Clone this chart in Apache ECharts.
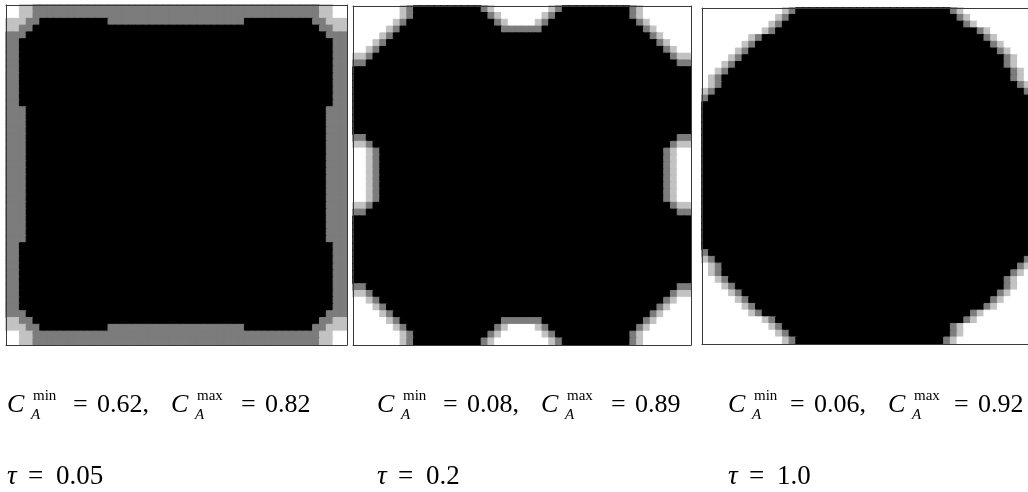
<!DOCTYPE html>
<html>
<head>
<meta charset="utf-8">
<title>C_A maps</title>
<script src="https://cdn.jsdelivr.net/npm/echarts@6/dist/echarts.min.js"></script>
<style>
  html, body { margin: 0; padding: 0; background: #fff; }
  #chart { width: 1028px; height: 492px; }
</style>
</head>
<body>
<div id="chart"></div>
<script>
// 50 x 50 cells per map, one string per row (top row first)
// B black, D dark grey, L light grey, W white ; "n*" = row repeated n times
var panel1Rows = [
  "2*W2L2D42L2W2",
  "L3D2B10D20B10D2L3",
  "L2D2B42D2L2",
  "D3B44D3",
  "10*D2B46D2",
  "20*D3B44D3",
  "10*D2B46D2",
  "D3B44D3",
  "L2D2B42D2L2",
  "L3D2B10D20B10D2L3",
  "2*W2L2D42L2W2"
];

var panel2Rows = [
  "W7L1D1B10D1L1W8L1D1B10D1L1W7",
  "W7L1D1B11D1L1W6L1D1B11D1L1W7",
  "W6L1D1B13D1L1W4L1D1B13D1L1W6",
  "W5L1D1B15D6B15D1L1W5",
  "W4L1D1B38D1L1W4",
  "W3L1D1B40D1L1W3",
  "W2L1D1B42D1L1W2",
  "L2D1B44D1L2",
  "D2B46D2",
  "10*B50",
  "D2B46D2",
  "L2D1B44D1L2",
  "8*W2L1D1B42D1L1W2",
  "L2D1B44D1L2",
  "D2B46D2",
  "10*B50",
  "D2B46D2",
  "L2D1B44D1L2",
  "W2L1D1B42D1L1W2",
  "W3L1D1B40D1L1W3",
  "W4L1D1B38D1L1W4",
  "W5L1D1B15D6B15D1L1W5",
  "W6L1D1B13D1L1W4L1D1B13D1L1W6",
  "W7L1D1B11D1L1W6L1D1B11D1L1W7",
  "W7L1D1B10D1L1W8L1D1B10D1L1W7"
];

var panel3Rows = [
  "W12L1D1B23D1L1W11",
  "W11L1D1B25D1L1W10",
  "W10L1D1B27D1L1W9",
  "W9L1D1B30D1L1W7",
  "W7L1D1B33D1L1W6",
  "W6L1D1B35D1L1W5",
  "W5L1D1B37D1L1W4",
  "W4L1D1B39D1L1W3",
  "W3L1D1B40D1L1W3",
  "W2L1D1B42D1L1W2",
  "W1L1D1B43D1L1W2",
  "W1L1D1B44D1L1W1",
  "L1D1B46D1L1",
  "D1B48D1",
  "22*B50",
  "D1B48D1",
  "L1D1B46D1L1",
  "W1L1D1B44D1L1W1",
  "W1L1D1B43D1L1W2",
  "W2L1D1B41D1L1W3",
  "W3L1D1B40D1L1W3",
  "W4L1D1B38D1L1W4",
  "W5L1D1B36D1L1W5",
  "W6L1D1B34D1L1W6",
  "W7L1D1B31D1L1W8",
  "W9L1D1B28D1L1W9",
  "W10L1D1B25D1L1W11",
  "W11L1D1B24D1L1W11",
  "W12L1D1B22D1L1W12"
];

var cMin = ["0.62", "0.08", "0.06"];
var cMax = ["0.82", "0.89", "0.92"];
var tauValues = ["0.05", "0.2", "1.0"];

var levelCodes = ["B", "D", "L", "W"];
var levelColors = ["#000000", "#7c7c7c", "#c2c2c2", "#ffffff"];

var N = 50;
var cellIndex = [];
for (var i = 0; i < N; i++) cellIndex.push(i);

// turn the row strings into heatmap items [col, row, level]
function decodeRows(rows) {
  var out = [];
  var r = 0;
  rows.forEach(function (line) {
    var rep = 1;
    var m = line.match(/^(\d+)\*(.*)$/);
    if (m) { rep = +m[1]; line = m[2]; }
    var cells = [];
    line.replace(/([BDLW])(\d+)/g, function (s, code, n) {
      for (var k = 0; k < +n; k++) cells.push(levelCodes.indexOf(code));
      return s;
    });
    if (cells.length !== N) console.warn("row width", cells.length, line);
    for (var k = 0; k < rep; k++) {
      cells.forEach(function (v, c) {
        // border in the cell's own colour hides the seams between cells
        out.push({ value: [c, r, v], itemStyle: { borderColor: levelColors[v], borderWidth: 1 } });
      });
      r++;
    }
  });
  return out;
}

var panels = [
  { rows: panel1Rows, left: 6, top: 5, width: 341, height: 340 },
  { rows: panel2Rows, left: 353, top: 6, width: 338, height: 339 },
  { rows: panel3Rows, left: 702, top: 8, width: 336, height: 336 }
];

var grids = [], xAxes = [], yAxes = [], series = [];

function frameAxis(grid, position, inverse) {
  return {
    type: "category",
    gridIndex: grid,
    position: position,
    data: cellIndex,
    inverse: inverse,
    z: 10,
    axisLine: { show: true, onZero: false, lineStyle: { color: "#3a3a3a", width: 1 } },
    axisTick: { show: false },
    axisLabel: { show: false },
    splitLine: { show: false }
  };
}

panels.forEach(function (p, i) {
  grids.push({
    left: p.left, top: p.top, width: p.width, height: p.height,
    outerBoundsMode: "none", containLabel: false
  });
  xAxes.push(frameAxis(i, "bottom", false));
  xAxes.push(frameAxis(i, "top", false));
  yAxes.push(frameAxis(i, "left", true));
  yAxes.push(frameAxis(i, "right", true));
  series.push({
    type: "heatmap",
    xAxisIndex: 2 * i,
    yAxisIndex: 2 * i,
    data: decodeRows(p.rows),
    progressive: 0,
    emphasis: { disabled: true },
    silent: true
  });
});

// formula labels under the maps
var serif = '"Liberation Serif", "Times New Roman", serif';
function txt(str, x, baseline, size, italic) {
  return {
    type: "text",
    x: x,
    y: baseline - 0.34 * size,
    silent: true,
    style: {
      text: str,
      font: (italic ? "italic " : "") + size + "px " + serif,
      fill: "#000",
      align: "left", verticalAlign: "middle",
      textAlign: "left", textVerticalAlign: "middle"
    }
  };
}

var labelLeft = [7, 377, 728];
var line1Offsets = [
  [0, 26, 66, 90, 164, 190, 234, 258],
  [0, 26, 66, 90, 164, 190, 234, 258],
  [0, 26, 62, 86, 160, 186, 226, 250]
];
var base1 = 414, base2 = 486, fs = 26, fsTau = 27, fsSmall = 15;

var texts = [];
labelLeft.forEach(function (x0, i) {
  var o = line1Offsets[i];
  texts.push(txt("C", x0 + o[0], base1, fs, true));
  texts.push(txt("min", x0 + o[1], base1 - 13, fsSmall, false));
  texts.push(txt("A", x0 + o[1] - 2, base1 + 6, fsSmall, true));
  texts.push(txt("=", x0 + o[2], base1, fs, false));
  texts.push(txt(cMin[i] + ",", x0 + o[3], base1, fs, false));
  texts.push(txt("C", x0 + o[4], base1, fs, true));
  texts.push(txt("max", x0 + o[5], base1 - 13, fsSmall, false));
  texts.push(txt("A", x0 + o[5] - 2, base1 + 6, fsSmall, true));
  texts.push(txt("=", x0 + o[6], base1, fs, false));
  texts.push(txt(cMax[i], x0 + o[7], base1, fs, false));

  texts.push(txt("\u03c4", x0, base2, fsTau, true));
  texts.push(txt("=", x0 + 21, base2, fsTau, false));
  texts.push(txt(tauValues[i], x0 + 49, base2, fsTau, false));
});

var chart = echarts.init(document.getElementById("chart"), null, { renderer: "canvas" });
chart.setOption({
  animation: false,
  backgroundColor: "#ffffff",
  grid: grids,
  xAxis: xAxes,
  yAxis: yAxes,
  visualMap: {
    type: "piecewise",
    show: false,
    dimension: 2,
    seriesIndex: [0, 1, 2],
    pieces: levelColors.map(function (c, v) { return { value: v, color: c }; })
  },
  series: series,
  graphic: texts
});
</script>
</body>
</html>
